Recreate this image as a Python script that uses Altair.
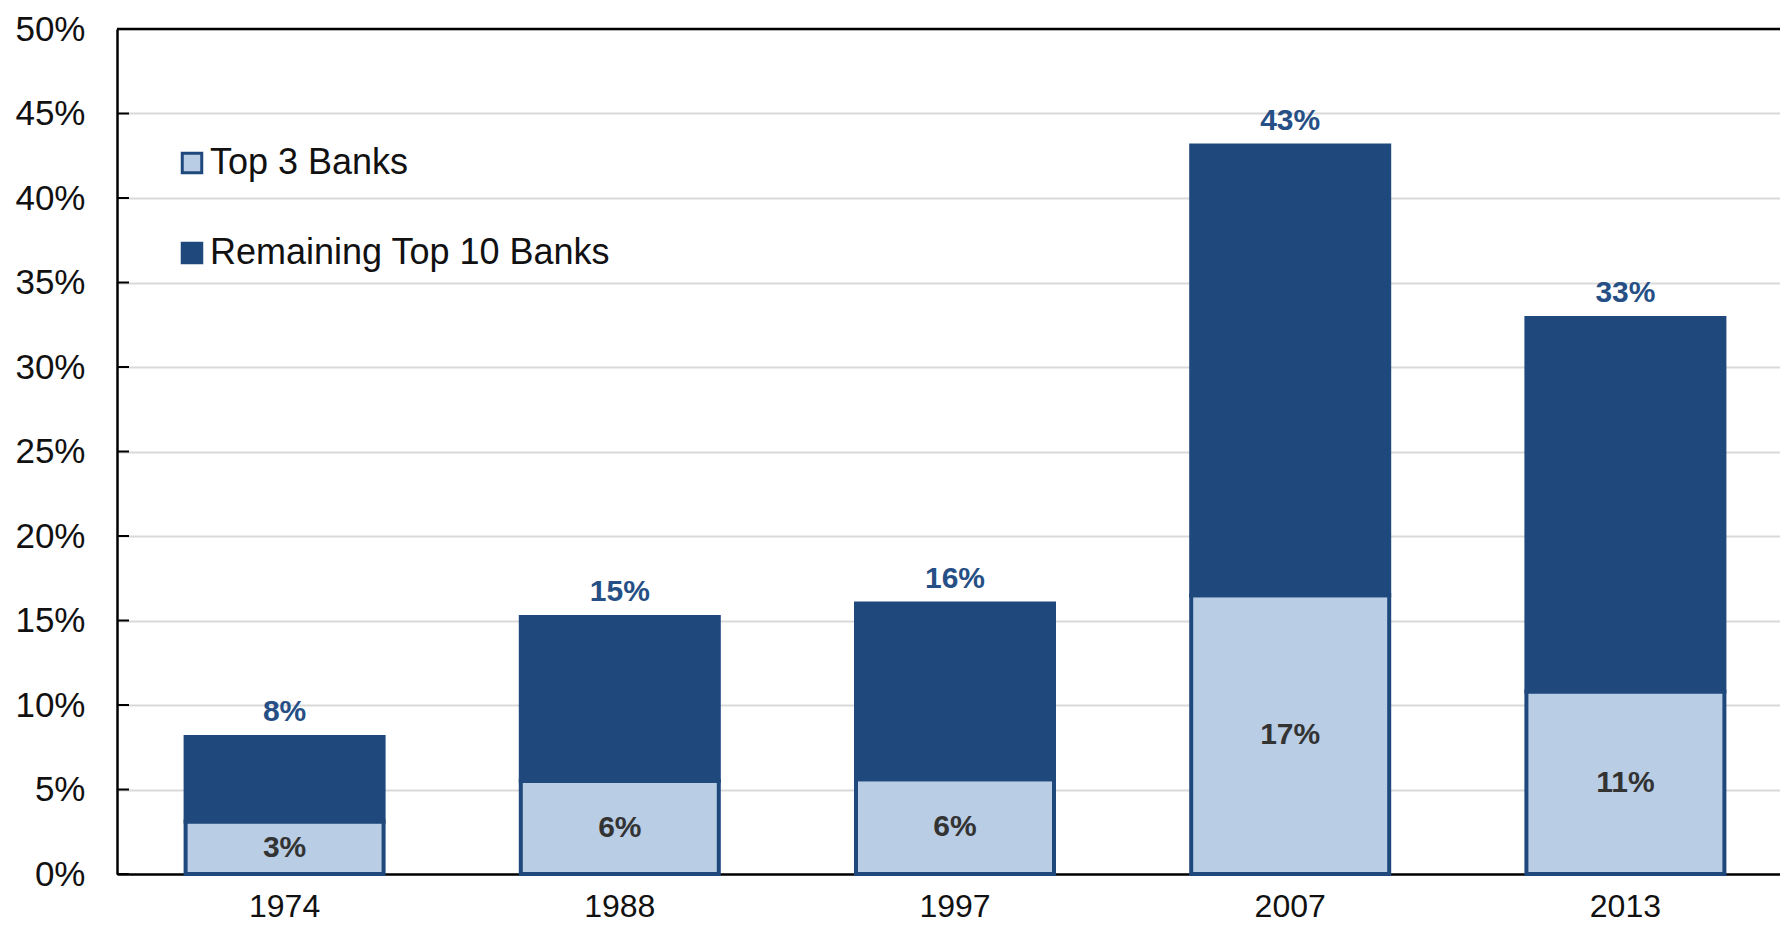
import altair as alt
import pandas as pd

years = ["1974", "1988", "1997", "2007", "2013"]
top3 = [3.1, 5.5, 5.6, 16.5, 10.8]
total = [8.1, 15.2, 16.0, 43.1, 32.9]
series_names = ["Top 3 Banks", "Remaining Top 10 Banks"]
y_ticks = [0, 5, 10, 15, 20, 25, 30, 35, 40, 45, 50]

LIGHT = "#B9CDE5"
DARK = "#1F497D"

rows = []
for yr, a, t in zip(years, top3, total):
    rows.append({"year": yr, "series": series_names[0], "start": 0.0, "end": a})
    rows.append({"year": yr, "series": series_names[1], "start": a, "end": t})
seg = pd.DataFrame(rows)

lab = pd.DataFrame({"year": years, "top3": top3, "total": total})
ticks_df = pd.DataFrame({"v": y_ticks})

W = 1676
H = 845

x_scale = alt.Scale(paddingInner=0.4, paddingOuter=0.2)
x_enc = alt.X("year:N", sort=years, scale=x_scale,
              axis=alt.Axis(title=None, labelAngle=0, ticks=False, tickSize=0,
                            labelFontSize=32, labelPadding=17, labelColor="#111111",
                            labelFont="Liberation Sans", domainColor="#000000",
                            domainWidth=2.5, grid=False))
y_scale = alt.Scale(domain=[0, 50], nice=False)
y_axis = alt.Axis(title=None, values=y_ticks, labelExpr="datum.value + '%'",
                  ticks=False, tickSize=0, labelFontSize=35, labelPadding=32,
                  labelColor="#111111", labelFont="Liberation Sans",
                  domainColor="#000000", domainWidth=2.5,
                  grid=True, gridColor="#D9D9D9", gridWidth=2)

bars = alt.Chart(seg).mark_bar(size=198, stroke=DARK, strokeWidth=4).encode(
    x=x_enc,
    y=alt.Y("start:Q", scale=y_scale, axis=y_axis),
    y2="end:Q",
    fill=alt.Fill("series:N",
                  scale=alt.Scale(domain=series_names, range=[LIGHT, DARK]),
                  legend=alt.Legend(title=None, orient="none", legendX=57, legendY=116,
                                    padding=0,
                                    symbolType="square", symbolSize=380,
                                    symbolStrokeColor=DARK, symbolStrokeWidth=3,
                                    labelFontSize=36, labelFont="Liberation Sans",
                                    labelColor="#111111", labelOffset=0,
                                    rowPadding=54, labelLimit=800)),
)

bold_font = "Liberation Sans"

top_labels = alt.Chart(lab).transform_calculate(
    tl="format(datum.total, '.0f') + '%'"
).mark_text(
    baseline="middle", dy=-25, fontSize=30, fontWeight="bold", font=bold_font,
    color="#264F86"
).encode(
    x=alt.X("year:N", sort=years, scale=x_scale),
    y=alt.Y("total:Q", scale=y_scale),
    text="tl:N",
)

inner_labels = alt.Chart(lab).transform_calculate(
    il="format(datum.top3, '.0f') + '%'",
    mid="datum.top3 / 2",
).mark_text(
    baseline="middle", fontSize=30, fontWeight="bold", font=bold_font,
    color="#333333"
).encode(
    x=alt.X("year:N", sort=years, scale=x_scale),
    y=alt.Y("mid:Q", scale=y_scale),
    text="il:N",
)

top_border = alt.Chart(pd.DataFrame({"v": [50]})).mark_rule(
    color="#000000", strokeWidth=2.5
).encode(y=alt.Y("v:Q", scale=y_scale))

inward_ticks = alt.Chart(ticks_df).mark_rule(color="#000000", strokeWidth=2).encode(
    y=alt.Y("v:Q", scale=y_scale), x=alt.value(0), x2=alt.value(12)
)

chart = alt.layer(bars, top_labels, inner_labels, top_border, inward_ticks).properties(
    width=W, height=H,
    autosize=alt.AutoSizeParams(type="none"),
    padding={"left": 109, "top": 21, "right": -13, "bottom": 49},
    background="white",
).configure_view(stroke=None)

chart.save("out.html", embed_options={"renderer": "svg", "actions": False})
